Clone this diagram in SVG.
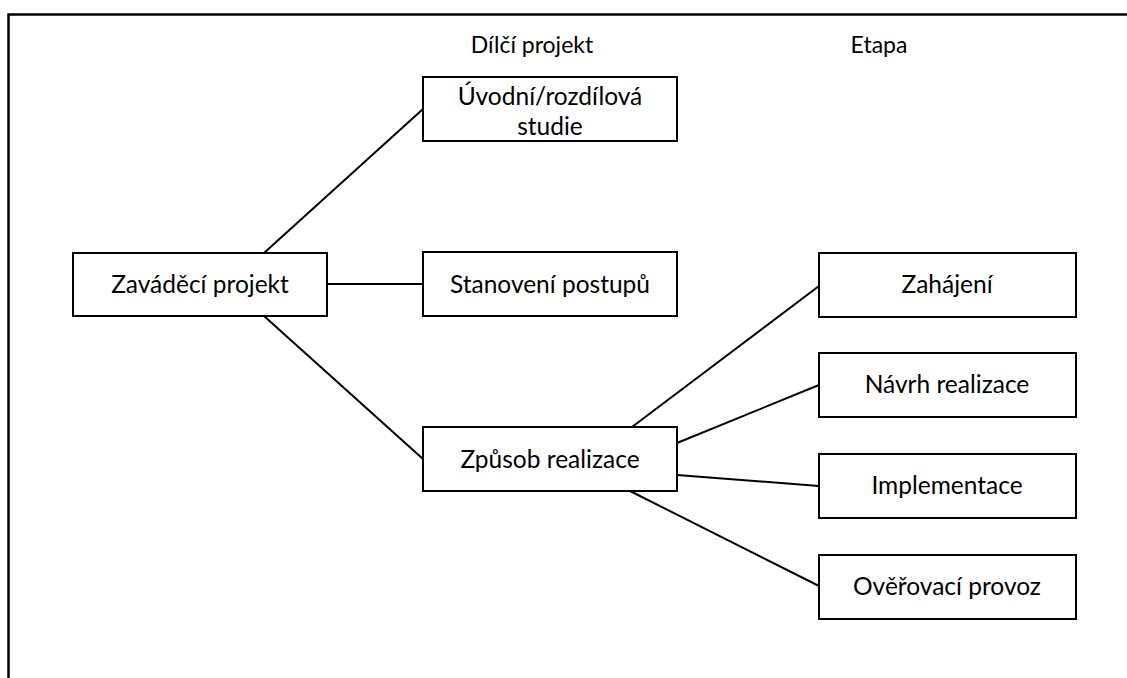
<svg xmlns="http://www.w3.org/2000/svg" width="1127" height="678" viewBox="0 0 1127 678">
<style>
.box{fill:#fff;stroke:#000;stroke-width:2}
.t{font-family:Lato,"Open Sans","Liberation Sans",sans-serif;font-size:24.5px;fill:#000;text-anchor:middle}
.h{font-family:Lato,"Open Sans","Liberation Sans",sans-serif;font-size:23px;fill:#000;text-anchor:middle}
.c{stroke:#000;stroke-width:2;fill:none}
</style>
<rect width="1127" height="678" fill="#fff"/>
<path d="M8.5,678 V14.5 H1127" fill="none" stroke="#000" stroke-width="2.5"/>
<text class="h" x="532" y="53">Dílčí projekt</text>
<text class="h" x="879" y="53">Etapa</text>
<g id="connectors">
<line class="c" x1="264" y1="253" x2="423" y2="109"/>
<line class="c" x1="327" y1="284" x2="423" y2="284"/>
<line class="c" x1="264" y1="316" x2="423" y2="459"/>
<line class="c" x1="632" y1="427" x2="819" y2="286"/>
<line class="c" x1="677" y1="443" x2="819" y2="385"/>
<line class="c" x1="677" y1="475" x2="819" y2="486"/>
<line class="c" x1="630" y1="491" x2="819" y2="586"/>
</g>
<g id="n-zavadeci"><rect class="box" x="73" y="253" width="254" height="63"/><text class="t" x="200" y="293">Zaváděcí projekt</text></g>
<g id="n-uvodni"><rect class="box" x="423" y="77" width="254" height="64"/><text class="t" x="550" y="105">Úvodní/rozdílová</text><text class="t" x="550" y="135">studie</text></g>
<g id="n-stanoveni"><rect class="box" x="423" y="252" width="254" height="64"/><text class="t" x="550" y="293">Stanovení postupů</text></g>
<g id="n-zpusob"><rect class="box" x="423" y="427" width="254" height="64"/><text class="t" x="550" y="468">Způsob realizace</text></g>
<g id="n-zahajeni"><rect class="box" x="819" y="253" width="257" height="64"/><text class="t" x="947" y="293">Zahájení</text></g>
<g id="n-navrh"><rect class="box" x="819" y="353" width="257" height="64"/><text class="t" x="947" y="393">Návrh realizace</text></g>
<g id="n-implementace"><rect class="box" x="819" y="454" width="257" height="64"/><text class="t" x="947" y="494">Implementace</text></g>
<g id="n-overovaci"><rect class="box" x="819" y="555" width="257" height="64"/><text class="t" x="947" y="595">Ověřovací provoz</text></g>
</svg>
